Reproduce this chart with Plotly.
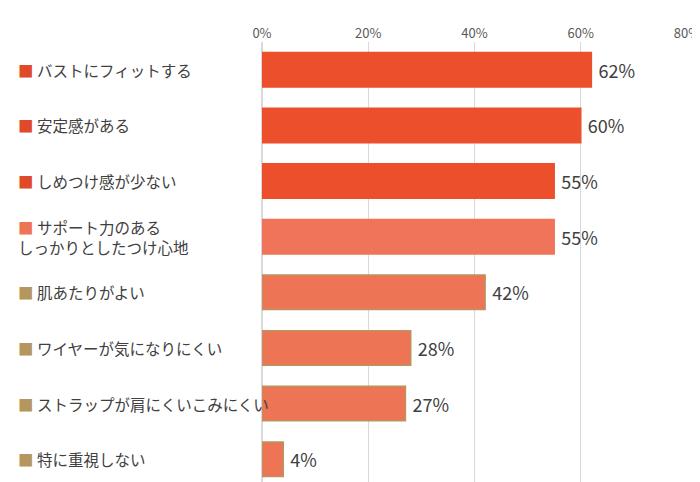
import plotly.graph_objects as go

labels = ["バストにフィットする", "安定感がある", "しめつけ感が少ない",
          "サポート力のある<br>しっかりとしたつけ心地", "肌あたりがよい",
          "ワイヤーが気になりにくい", "ストラップが肩にくいこみにくい", "特に重視しない"]
values = [62, 60, 55, 55, 42, 28, 27, 4]
fills = ["#ec4f2b", "#ec4f2b", "#ec4f2b", "#f0745a", "#ee7456", "#ee7456", "#ee7456", "#ee7456"]
edges = ["#ec4f2b", "#ec4f2b", "#ec4f2b", "#f0745a", "#b8955e", "#b8955e", "#b8955e", "#b8955e"]
marks = ["#e04a2a", "#e04a2a", "#e04a2a", "#ee7456", "#b5965f", "#b5965f", "#b5965f", "#b5965f"]

cats = list(range(len(labels)))
fig = go.Figure(go.Bar(
    x=values, y=cats, orientation="h", width=0.62,
    marker=dict(color=fills, line=dict(color=edges, width=1.5)),
    text=[f" {v}%" for v in values], textposition="outside",
    textfont=dict(size=18, color="#404040"), cliponaxis=False,
))

for i, lab in enumerate(labels):
    fig.add_annotation(
        x=0, xref="paper", xshift=-246, y=i, yref="y", xanchor="left", align="left",
        text=f"<span style='color:{marks[i]}'>■</span> {lab}", showarrow=False,
        font=dict(size=15.5, color="#404040"),
    )

fig.update_layout(
    width=700, height=482, plot_bgcolor="white", paper_bgcolor="white",
    margin=dict(l=254, r=21, t=34, b=3, autoexpand=False), showlegend=False,
    font=dict(family="Noto Sans CJK JP", color="#595959"),
    xaxis=dict(range=[0, 80], dtick=20, ticksuffix="%", side="top", showgrid=True,
               gridcolor="#d9d9d9", zeroline=True, zerolinecolor="#d9d9d9",
               tickfont=dict(size=13, color="#595959")),
    yaxis=dict(autorange="reversed", showticklabels=False, showgrid=False,
               range=[-0.5, 7.5]),
)
fig.write_html("out.html")
